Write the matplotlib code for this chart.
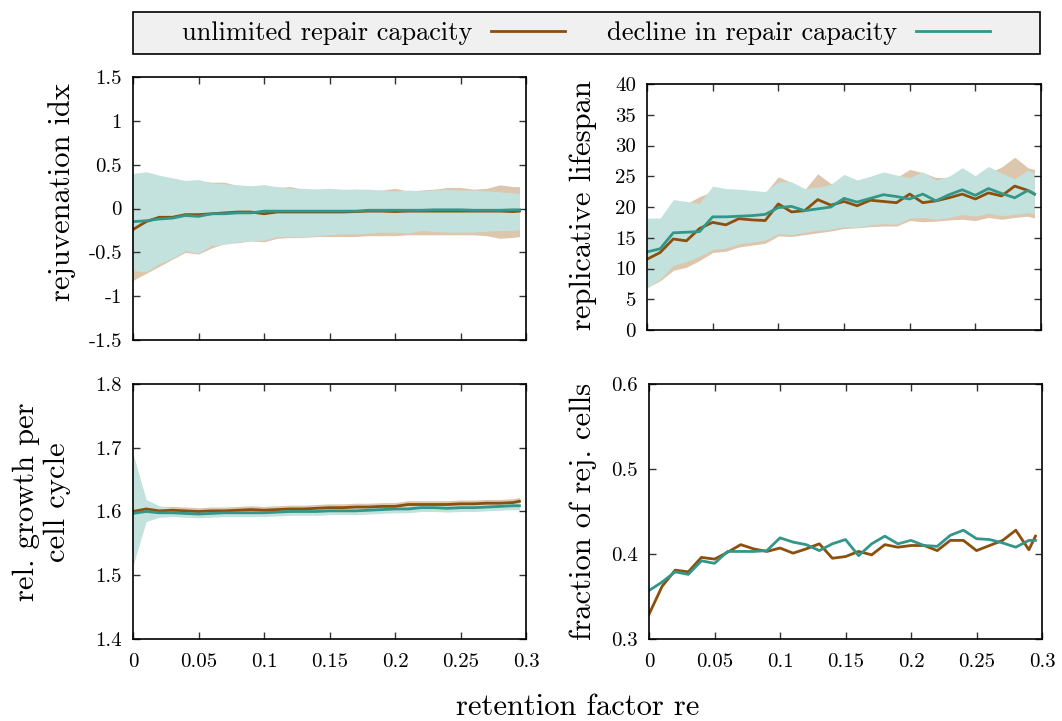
import matplotlib
matplotlib.use("Agg")
import matplotlib.pyplot as plt
from matplotlib.lines import Line2D
from matplotlib.patches import Rectangle

plt.rcParams['font.family'] = ['cmr10', 'DejaVu Serif']
plt.rcParams['axes.unicode_minus'] = False
plt.rcParams['mathtext.fontset'] = 'cm'

# retention factor
x = [0.0, 0.01, 0.02, 0.03, 0.04, 0.05, 0.06, 0.07, 0.08, 0.09,
     0.10, 0.11, 0.12, 0.13, 0.14, 0.15, 0.16, 0.17, 0.18, 0.19,
     0.20, 0.21, 0.22, 0.23, 0.24, 0.25, 0.26, 0.27, 0.28, 0.29, 0.295]

# rejuvenation index
rej_unl = [-0.24, -0.15, -0.10, -0.10, -0.07, -0.07, -0.06, -0.05, -0.04, -0.04,
           -0.06, -0.04, -0.04, -0.04, -0.04, -0.04, -0.04, -0.035, -0.03, -0.03,
           -0.035, -0.03, -0.03, -0.03, -0.03, -0.03, -0.03, -0.03, -0.03, -0.035, -0.03]
rej_dec = [-0.15, -0.14, -0.12, -0.11, -0.08, -0.09, -0.06, -0.06, -0.05, -0.05,
           -0.03, -0.03, -0.03, -0.03, -0.03, -0.03, -0.03, -0.03, -0.02, -0.02,
           -0.02, -0.02, -0.02, -0.015, -0.015, -0.015, -0.02, -0.02, -0.02, -0.015, -0.015]
rej_unl_hi = [0.38, 0.40, 0.37, 0.34, 0.31, 0.32, 0.30, 0.30, 0.26, 0.25,
              0.27, 0.24, 0.25, 0.22, 0.22, 0.22, 0.21, 0.22, 0.21, 0.21,
              0.23, 0.20, 0.21, 0.22, 0.24, 0.24, 0.22, 0.23, 0.27, 0.25, 0.25]
rej_unl_lo = [-0.82, -0.74, -0.66, -0.58, -0.50, -0.52, -0.45, -0.40, -0.39, -0.37,
              -0.38, -0.34, -0.33, -0.33, -0.32, -0.32, -0.32, -0.32, -0.31, -0.31,
              -0.31, -0.30, -0.30, -0.30, -0.30, -0.30, -0.30, -0.31, -0.34, -0.33, -0.32]
rej_dec_hi = [0.40, 0.42, 0.38, 0.35, 0.32, 0.33, 0.29, 0.28, 0.27, 0.26,
              0.27, 0.25, 0.23, 0.23, 0.22, 0.23, 0.22, 0.22, 0.22, 0.21,
              0.20, 0.21, 0.20, 0.21, 0.22, 0.21, 0.21, 0.20, 0.19, 0.18, 0.17]
rej_dec_lo = [-0.71, -0.72, -0.63, -0.57, -0.48, -0.51, -0.42, -0.41, -0.38, -0.37,
              -0.36, -0.32, -0.32, -0.32, -0.31, -0.30, -0.29, -0.29, -0.28, -0.27,
              -0.27, -0.28, -0.25, -0.26, -0.27, -0.27, -0.27, -0.26, -0.25, -0.25, -0.24]

# replicative lifespan
rls_unl = [11.5, 12.6, 14.8, 14.5, 16.5, 17.5, 17.1, 18.1, 17.9, 17.8,
           20.5, 19.2, 19.4, 21.2, 20.3, 20.9, 20.2, 21.1, 20.9, 20.7,
           22.1, 20.7, 21.0, 21.5, 22.1, 21.3, 22.3, 21.8, 23.4, 22.7, 22.1]
rls_dec = [12.7, 13.2, 15.8, 15.9, 16.0, 18.4, 18.4, 18.5, 18.6, 18.8,
           19.9, 20.1, 19.4, 19.7, 20.0, 21.4, 20.8, 21.4, 22.0, 21.7,
           21.3, 22.1, 21.0, 22.0, 22.8, 21.9, 23.0, 22.2, 21.5, 22.7, 22.1]
rls_unl_hi = [17.5, 17.8, 20.0, 20.5, 21.7, 22.5, 22.3, 22.4, 22.3, 22.3,
              24.9, 24.0, 22.8, 25.4, 23.8, 24.2, 24.2, 24.8, 25.0, 24.8,
              26.1, 25.6, 24.8, 24.8, 25.5, 25.0, 25.5, 26.5, 28.1, 26.4, 26.1]
rls_unl_lo = [6.9, 8.0, 9.7, 10.2, 11.3, 12.6, 12.8, 13.5, 13.8, 14.1,
              15.3, 15.2, 15.5, 15.8, 16.1, 16.5, 16.6, 16.8, 16.9, 16.9,
              17.8, 17.6, 17.7, 17.9, 18.0, 17.8, 18.3, 18.0, 18.3, 18.5, 18.2]
rls_dec_hi = [18.2, 18.2, 21.2, 20.9, 20.6, 23.4, 23.0, 22.9, 22.7, 22.5,
              24.1, 24.1, 23.0, 23.2, 23.7, 25.3, 24.4, 25.0, 25.7, 25.2,
              24.8, 25.7, 24.4, 25.0, 26.4, 25.1, 26.6, 25.5, 24.6, 26.0, 25.5]
rls_dec_lo = [6.8, 8.3, 10.5, 11.1, 12.0, 13.1, 13.3, 14.0, 14.3, 14.6,
              15.7, 15.5, 15.9, 16.2, 16.4, 16.8, 16.7, 17.1, 17.3, 17.2,
              18.2, 18.3, 18.0, 18.3, 18.8, 18.5, 19.0, 18.6, 18.8, 19.1, 18.9]

# relative growth per cell cycle
gro_unl = [1.600, 1.604, 1.601, 1.602, 1.601, 1.600, 1.601, 1.601, 1.602, 1.603,
           1.602, 1.603, 1.604, 1.604, 1.605, 1.606, 1.606, 1.607, 1.607, 1.608,
           1.608, 1.611, 1.611, 1.611, 1.611, 1.612, 1.612, 1.613, 1.613, 1.614, 1.616]
gro_dec = [1.597, 1.600, 1.598, 1.598, 1.597, 1.596, 1.597, 1.598, 1.598, 1.598,
           1.598, 1.599, 1.600, 1.600, 1.600, 1.601, 1.601, 1.601, 1.602, 1.603,
           1.604, 1.604, 1.606, 1.606, 1.605, 1.606, 1.606, 1.607, 1.608, 1.609, 1.609]
gro_unl_hi = [1.690, 1.616, 1.608, 1.608, 1.607, 1.606, 1.607, 1.607, 1.608, 1.609,
              1.608, 1.609, 1.610, 1.610, 1.611, 1.612, 1.612, 1.613, 1.613, 1.614,
              1.614, 1.617, 1.617, 1.617, 1.617, 1.618, 1.618, 1.619, 1.619, 1.620, 1.622]
gro_unl_lo = [1.515, 1.592, 1.596, 1.597, 1.596, 1.595, 1.596, 1.596, 1.597, 1.598,
              1.597, 1.598, 1.599, 1.599, 1.600, 1.601, 1.601, 1.602, 1.602, 1.603,
              1.603, 1.606, 1.606, 1.606, 1.606, 1.607, 1.607, 1.608, 1.608, 1.609, 1.611]
gro_dec_hi = [1.689, 1.619, 1.609, 1.605, 1.603, 1.602, 1.602, 1.603, 1.603, 1.603,
              1.603, 1.604, 1.605, 1.605, 1.605, 1.606, 1.606, 1.606, 1.607, 1.608,
              1.609, 1.609, 1.611, 1.611, 1.610, 1.611, 1.611, 1.612, 1.613, 1.614, 1.614]
gro_dec_lo = [1.516, 1.584, 1.591, 1.592, 1.591, 1.590, 1.591, 1.592, 1.592, 1.592,
              1.592, 1.593, 1.594, 1.594, 1.594, 1.595, 1.595, 1.595, 1.596, 1.597,
              1.598, 1.598, 1.600, 1.600, 1.599, 1.600, 1.600, 1.601, 1.602, 1.603, 1.603]

# fraction of rejuvenated cells
frac_unl = [0.329, 0.362, 0.381, 0.379, 0.396, 0.394, 0.402, 0.411, 0.406, 0.403,
            0.407, 0.401, 0.406, 0.412, 0.395, 0.397, 0.403, 0.399, 0.411, 0.408,
            0.410, 0.410, 0.404, 0.416, 0.416, 0.404, 0.410, 0.416, 0.428, 0.405, 0.421]
frac_dec = [0.357, 0.367, 0.379, 0.376, 0.392, 0.389, 0.403, 0.403, 0.403, 0.404,
            0.419, 0.414, 0.411, 0.404, 0.412, 0.417, 0.398, 0.412, 0.421, 0.412,
            0.416, 0.410, 0.409, 0.422, 0.428, 0.418, 0.417, 0.413, 0.408, 0.416, 0.416]

xticks = [0, 0.05, 0.1, 0.15, 0.2, 0.25, 0.3]
xticklabels = ['0', '0.05', '0.1', '0.15', '0.2', '0.25', '0.3']

brown = '#8c4f0c'
teal = '#329688'
brown_band = '#dcc6ae'
teal_band = '#c4e2dd'

W, H = 1062, 721
fig = plt.figure(figsize=(W / 100, H / 100), dpi=100)


def px_axes(left, top, right, bottom):
    return fig.add_axes([left / W, 1 - bottom / H, (right - left) / W, (bottom - top) / H])


def style(ax, yticks, ylabels, ylim, show_x):
    ax.set_xlim(0, 0.3)
    ax.set_ylim(*ylim)
    ax.set_xticks(xticks)
    if show_x:
        ax.set_xticklabels(xticklabels)
    else:
        ax.set_xticklabels([])
    ax.set_yticks(yticks)
    ax.set_yticklabels(ylabels)
    ax.tick_params(direction='in', length=5, width=1, top=True, right=True,
                   labelsize=15, color='#333333')
    ax.tick_params(axis='y', pad=8)
    ax.tick_params(axis='x', pad=10)
    for s in ax.spines.values():
        s.set_linewidth(1.2)


lw = 2.0

# top left: rejuvenation index
ax1 = px_axes(133, 77, 526, 340)
ax1.fill_between(x, rej_unl_lo, rej_unl_hi, color=brown_band, lw=0)
ax1.fill_between(x, rej_dec_lo, rej_dec_hi, color=teal_band, lw=0)
ax1.plot(x, rej_unl, color=brown, lw=lw)
ax1.plot(x, rej_dec, color=teal, lw=lw)
style(ax1, [-1.5, -1, -0.5, 0, 0.5, 1, 1.5],
      ['-1.5', '-1', '-0.5', '0', '0.5', '1', '1.5'], (-1.5, 1.5), False)

# top right: replicative lifespan
ax2 = px_axes(647, 84, 1041, 330)
ax2.fill_between(x, rls_unl_lo, rls_unl_hi, color=brown_band, lw=0)
ax2.fill_between(x, rls_dec_lo, rls_dec_hi, color=teal_band, lw=0)
ax2.plot(x, rls_unl, color=brown, lw=lw)
ax2.plot(x, rls_dec, color=teal, lw=lw)
style(ax2, [0, 5, 10, 15, 20, 25, 30, 35, 40],
      ['0', '5', '10', '15', '20', '25', '30', '35', '40'], (0, 40), False)

# bottom left: relative growth
ax3 = px_axes(133, 384, 526, 639)
ax3.fill_between(x, gro_unl_lo, gro_unl_hi, color=brown_band, lw=0)
ax3.fill_between(x, gro_dec_lo, gro_dec_hi, color=teal_band, lw=0)
ax3.plot(x, gro_unl, color=brown, lw=lw)
ax3.plot(x, gro_dec, color=teal, lw=lw)
style(ax3, [1.4, 1.5, 1.6, 1.7, 1.8],
      ['1.4', '1.5', '1.6', '1.7', '1.8'], (1.4, 1.8), True)

# bottom right: fraction of rejuvenated cells
ax4 = px_axes(649, 384, 1042, 639)
ax4.plot(x, frac_unl, color=brown, lw=lw)
ax4.plot(x, frac_dec, color=teal, lw=lw)
style(ax4, [0.3, 0.4, 0.5, 0.6], ['0.3', '0.4', '0.5', '0.6'], (0.3, 0.6), True)

lab = 22
fig.text(62 / W, 1 - 192 / H, 'rejuvenation idx', rotation=90, ha='center', va='center', fontsize=lab)
fig.text(583 / W, 1 - 205 / H, 'replicative lifespan', rotation=90, ha='center', va='center', fontsize=lab)
fig.text(42 / W, 1 - 502 / H, 'rel. growth per\ncell cycle', rotation=90, ha='center', va='center',
         fontsize=lab, linespacing=1.15)
fig.text(583 / W, 1 - 511 / H, 'fraction of rej. cells', rotation=90, ha='center', va='center', fontsize=lab)
fig.text(578 / W, 1 - 707 / H, 'retention factor re', ha='center', va='center', fontsize=lab)

# legend box drawn like the gnuplot key: text first, then the line sample
box = Rectangle((133 / W, 1 - 54 / H), (1040 - 133) / W, 42 / H, transform=fig.transFigure,
                facecolor='#f0f0f0', edgecolor='black', lw=1.2, zorder=0)
fig.patches.append(box)
handles = [Line2D([], [], color=brown, lw=lw), Line2D([], [], color=teal, lw=lw)]
leg = fig.legend(handles, ['unlimited repair capacity', 'decline in repair capacity'],
                 loc='center', bbox_to_anchor=(586 / W, 1 - 33 / H), ncol=2, markerfirst=False,
                 handlelength=2.8, handletextpad=0.7, columnspacing=1.6, fontsize=19,
                 frameon=False, borderaxespad=0, borderpad=0)

fig.savefig('out.png', dpi=100)
